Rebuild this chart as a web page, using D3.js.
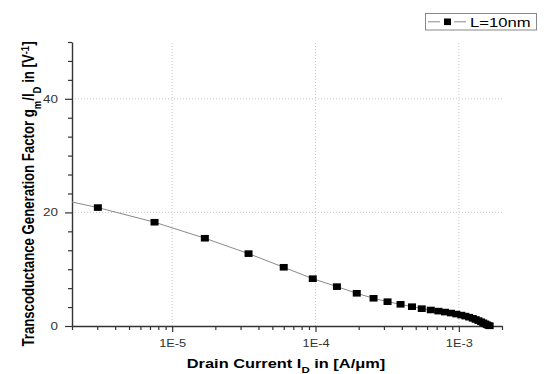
<!DOCTYPE html>
<html>
<head>
<meta charset="utf-8">
<script src="https://cdn.jsdelivr.net/npm/d3@7"></script>
<style>
  body { margin: 0; background: #fff; }
  svg { display: block; font-family: "Liberation Sans", Arial, sans-serif; }
</style>
</head>
<body>
<div id="chart"></div>
<script>
// drain current (A/um) and gm/Id (1/V)
const drainCurrent = [1.5e-6, 3.03e-6, 7.53e-6, 1.69e-5, 3.41e-5, 6.0e-5, 9.57e-5, 1.41e-4, 1.94e-4,
  2.54e-4, 3.18e-4, 3.92e-4, 4.71e-4, 5.51e-4, 6.37e-4, 7.2e-4, 8.0e-4, 8.8e-4, 9.6e-4, 1.04e-3,
  1.11e-3, 1.18e-3, 1.25e-3, 1.31e-3, 1.37e-3, 1.43e-3, 1.48e-3, 1.53e-3, 1.57e-3, 1.61e-3, 1.64e-3];
const gmOverId = [22.5, 20.85, 18.27, 15.45, 12.74, 10.34, 8.33, 6.93, 5.76, 4.88, 4.28, 3.82, 3.40,
  3.05, 2.82, 2.62, 2.45, 2.28, 2.10, 1.92, 1.74, 1.55, 1.35, 1.15, 0.95, 0.75, 0.56, 0.38, 0.22, 0.10, 0.03];
const xMajor = [1e-5, 1e-4, 1e-3];
const xLabels = ["1E-5", "1E-4", "1E-3"];
const yMajor = [0, 20, 40];
const seriesName = "L=10nm";

const width = 550, height = 374;
const plotLeft = 72, plotRight = 502, plotTop = 42, plotBottom = 326;
const stretch = 1.28; // the picture is wider than tall

const svg = d3.select("#chart").append("svg")
  .attr("width", width)
  .attr("height", height);

const x = d3.scaleLog().domain([2e-6, 2e-3]).range([plotLeft, plotRight]);
const y = d3.scaleLinear().domain([0, 50]).range([plotBottom, plotTop]);

svg.append("clipPath").attr("id", "clip")
  .append("rect").attr("x", plotLeft).attr("y", 0).attr("width", width - plotLeft).attr("height", height);

// grid
svg.append("g").selectAll("line").data(xMajor).enter().append("line")
  .attr("x1", d => x(d)).attr("x2", d => x(d))
  .attr("y1", y(0)).attr("y2", y(50))
  .attr("stroke", "#c8c8c8").attr("stroke-dasharray", "1,2");
svg.append("g").selectAll("line").data([20, 40]).enter().append("line")
  .attr("x1", plotLeft).attr("x2", plotRight)
  .attr("y1", d => y(d)).attr("y2", d => y(d))
  .attr("stroke", "#c8c8c8").attr("stroke-dasharray", "1,2");

// x axis with minor ticks
const xTicks = [];
[1e-6, 1e-5, 1e-4, 1e-3].forEach(dec => {
  for (let k = 1; k <= 9; k++) {
    const v = dec * k;
    if (v >= 2e-6 * 0.999 && v <= 2e-3 * 1.001) xTicks.push(v);
  }
});
const isMajorX = v => xMajor.some(m => Math.abs(v / m - 1) < 1e-6);

const xAxis = svg.append("g")
  .attr("transform", "translate(0," + plotBottom + ")")
  .call(d3.axisBottom(x).tickValues(xTicks)
    .tickFormat(v => { const i = xMajor.findIndex(m => Math.abs(v / m - 1) < 1e-6); return i >= 0 ? xLabels[i] : ""; })
    .tickSizeOuter(0));
xAxis.select(".domain").attr("stroke", "#333").attr("stroke-width", 1.4);
xAxis.selectAll(".tick line").attr("stroke", "#333").attr("stroke-width", 1.2)
  .attr("y2", d => isMajorX(d) ? 6 : 4);
xAxis.selectAll(".tick text")
  .attr("y", 14)
  .attr("fill", "#333")
  .style("font-size", "10px")
  .attr("transform", "scale(" + stretch + ",1)");

// y axis with minor ticks every 10/3
const yTicks = d3.range(0, 16).map(i => i * 10 / 3);
const yAxis = svg.append("g")
  .attr("transform", "translate(" + plotLeft + ",0)")
  .call(d3.axisLeft(y).tickValues(yTicks)
    .tickFormat(v => yMajor.some(m => Math.abs(v - m) < 1e-6) ? d3.format("d")(Math.round(v)) : "")
    .tickSizeOuter(0));
yAxis.select(".domain").attr("stroke", "#333").attr("stroke-width", 1.4);
yAxis.selectAll(".tick line").attr("stroke", "#333").attr("stroke-width", 1.2)
  .attr("x2", d => yMajor.some(m => Math.abs(d - m) < 1e-6) ? -7 : -4);
yAxis.selectAll(".tick text")
  .attr("x", -11)
  .attr("fill", "#333")
  .style("font-size", "10.5px")
  .attr("transform", "scale(" + stretch + ",1)");

// series
const pts = drainCurrent.map((c, i) => ({ c: c, v: gmOverId[i] }));
const plot = svg.append("g").attr("clip-path", "url(#clip)");
plot.append("path")
  .datum(pts)
  .attr("fill", "none")
  .attr("stroke", "#8a8a8a")
  .attr("stroke-width", 1)
  .attr("d", d3.line().x(d => x(d.c)).y(d => y(d.v)));
plot.selectAll("rect.mk").data(pts).enter().append("rect")
  .attr("class", "mk")
  .attr("x", d => x(d.c) - 4)
  .attr("y", d => y(d.v) - 3.3)
  .attr("width", 8)
  .attr("height", 6.6)
  .attr("fill", "#000");

// axis titles
const xt = svg.append("text")
  .attr("transform", "translate(286,368) scale(" + stretch + ",1)")
  .attr("text-anchor", "middle")
  .style("font-size", "12.8px")
  .style("font-weight", "bold");
xt.append("tspan").text("Drain Current I");
xt.append("tspan").attr("baseline-shift", "sub").style("font-size", "9px").text("D");
xt.append("tspan").text(" in [A/\u03bcm]");

const yt = svg.append("text")
  .attr("transform", "translate(34,194) scale(1.2,1) rotate(-90)")
  .attr("text-anchor", "middle")
  .style("font-size", "13.2px")
  .style("font-weight", "bold");
yt.append("tspan").text("Transcoductance Generation Factor g");
yt.append("tspan").attr("baseline-shift", "sub").style("font-size", "9.5px").text("m");
yt.append("tspan").text("/I");
yt.append("tspan").attr("baseline-shift", "sub").style("font-size", "9.5px").text("D");
yt.append("tspan").text(" in [V");
yt.append("tspan").attr("baseline-shift", "super").style("font-size", "9.5px").text("-1");
yt.append("tspan").text("]");

// legend
const lg = svg.append("g");
lg.append("rect")
  .attr("x", 425.5).attr("y", 13.5).attr("width", 111).attr("height", 16.5)
  .attr("fill", "#fff").attr("stroke", "#888").attr("stroke-width", 1);
lg.selectAll("line").data([[428, 440], [454, 466]]).enter().append("line")
  .attr("x1", d => d[0]).attr("x2", d => d[1]).attr("y1", 21.8).attr("y2", 21.8)
  .attr("stroke", "#8a8a8a").attr("stroke-width", 1);
lg.append("rect")
  .attr("x", 444).attr("y", 18.5).attr("width", 7).attr("height", 6.6).attr("fill", "#000");
lg.append("text")
  .attr("transform", "translate(470,26.5) scale(" + stretch + ",1)")
  .style("font-size", "13px")
  .text(seriesName);
</script>
</body>
</html>
